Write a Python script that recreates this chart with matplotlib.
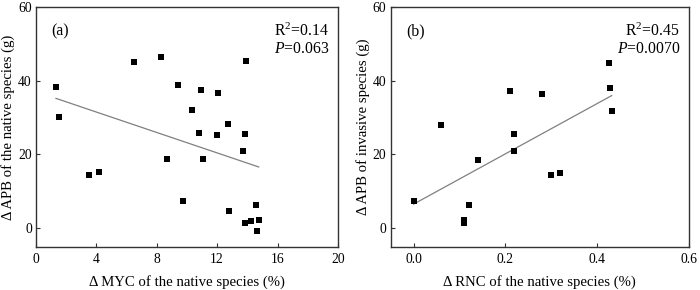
import numpy as np
import matplotlib
matplotlib.use("Agg")
import matplotlib.pyplot as plt

plt.rcParams['font.family'] = ['Liberation Serif', 'DejaVu Serif']
plt.rcParams['mathtext.fontset'] = 'custom'
plt.rcParams['mathtext.rm'] = 'Liberation Serif'
plt.rcParams['mathtext.it'] = 'Liberation Serif:italic'

# panel (a): change in mycorrhizal colonisation vs APB of native species
myc = [1.32, 1.52, 3.48, 4.15, 6.48, 8.25, 8.69, 9.42, 9.72, 10.36, 10.8, 10.94,
       11.07, 12.02, 12.06, 12.72, 12.81, 13.69, 13.87, 13.94, 13.87, 14.27,
       14.6, 14.62, 14.75]
apb_native = [38.2, 30.1, 14.5, 15.1, 45.0, 46.5, 18.6, 38.8, 7.4, 31.9, 25.9, 37.5,
              18.6, 25.3, 36.6, 28.1, 4.5, 21.0, 25.6, 45.3, 1.4, 2.0,
              6.3, -0.9, 2.2]

# panel (b): change in RNC vs APB of invasive species
rnc = [0.0, 0.059, 0.110, 0.110, 0.120, 0.140, 0.210, 0.220, 0.220, 0.280,
       0.300, 0.320, 0.425, 0.429, 0.432]
apb_inv = [7.3, 27.9, 2.1, 1.35, 6.1, 18.4, 37.3, 25.6, 20.9, 36.3,
           14.4, 15.0, 44.8, 38.0, 31.7]

fig = plt.figure(figsize=(7, 2.9), dpi=100)
ax1 = fig.add_axes([0.0514, 0.148, 0.4314, 0.828])
ax2 = fig.add_axes([0.558, 0.148, 0.426, 0.828])

def panel(ax, x, y, xlim, xticks, xfmt, xlabel, ylabel, tag, r2, p):
    x = np.array(x); y = np.array(y)
    ax.scatter(x, y, marker='s', s=22, color='black', zorder=3, linewidths=0)
    k, b = np.polyfit(x, y, 1)
    xs = np.array([x.min(), x.max()])
    ax.plot(xs, k * xs + b, color='#808080', lw=0.9, zorder=2)
    ax.set_xlim(*xlim)
    ax.set_ylim(-5.2, 60)
    ax.set_xticks(xticks)
    ax.set_xticklabels([xfmt.format(t) for t in xticks])
    ax.set_yticks([0, 20, 40, 60])
    ax.tick_params(direction='in', length=3, width=0.8, labelsize=9.8, color='#333333', pad=4)
    ax.tick_params(axis='y', pad=3)
    for s in ax.spines.values():
        s.set_color('#333333')
        s.set_linewidth(1.0)
    ax.set_xlabel(xlabel, fontsize=10.6, labelpad=7)
    ax.set_ylabel(ylabel, fontsize=10.6, labelpad=2)
    ax.text(0.052, 0.9, tag, transform=ax.transAxes, fontsize=11.3, va='center', ha='left')
    ax.text(0.97, 0.9, r'R$^2$=' + r2, transform=ax.transAxes, fontsize=11.3, va='center', ha='right')
    ax.text(0.97, 0.825, r'$\it{P}$=' + p, transform=ax.transAxes, fontsize=11.3, va='center', ha='right')

panel(ax1, myc, apb_native, (0, 20), [0, 4, 8, 12, 16, 20], '{:g}',
      'Δ MYC of the native species (%)', 'Δ APB of the native species (g)', '(a)', '0.14', '0.063')
panel(ax2, rnc, apb_inv, (-0.05, 0.6), [0.0, 0.2, 0.4, 0.6], '{:.1f}',
      'Δ RNC of the native species (%)', 'Δ APB of invasive species (g)', '(b)', '0.45', '0.0070')

fig.savefig('out.png', dpi=100)
